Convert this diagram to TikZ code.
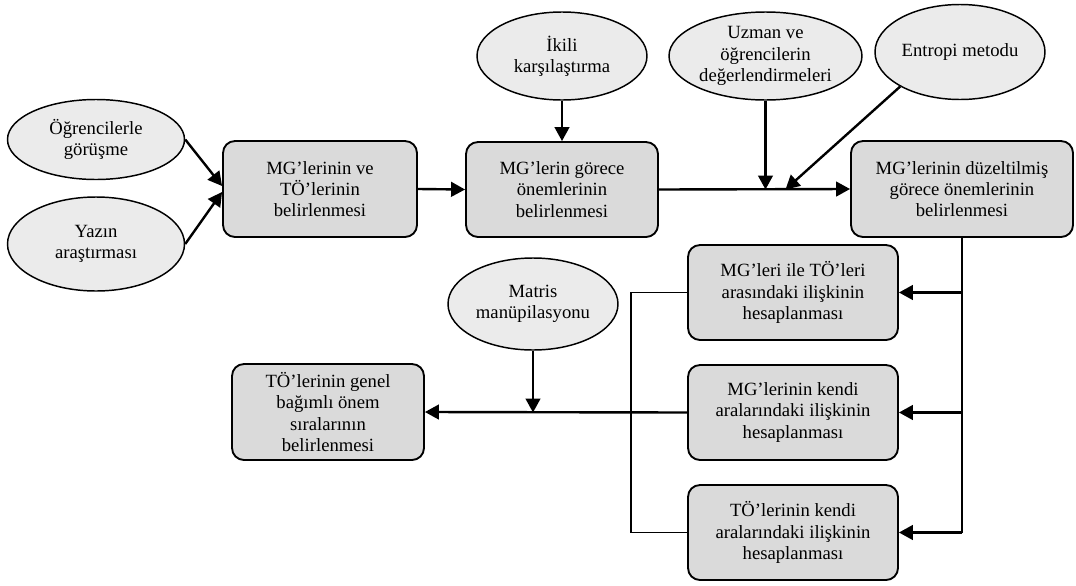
\documentclass[tikz,border=0pt]{standalone}
\usepackage{fontspec}
\setmainfont{Liberation Serif}
\usetikzlibrary{shapes.geometric,arrows.meta,calc}
\definecolor{boxgray}{HTML}{DADADA}
\definecolor{ovalgray}{HTML}{EBEBEB}
\begin{document}
\begin{tikzpicture}[x=0.75pt,y=-0.75pt,
  font=\fontsize{14}{16}\selectfont,
  stepbox/.style={draw, line width=1.4pt, rounded corners=9pt, fill=boxgray,
    align=center, inner sep=0pt},
  oval/.style={draw, ellipse, line width=1.1pt, fill=ovalgray,
    align=center, inner sep=0pt},
  arr/.style={line width=1.8pt, -{Triangle[length=10.5pt,width=11pt]}},
  link/.style={line width=1.8pt},
  thinlink/.style={line width=0.9pt}]
\useasboundingbox (0,0) rectangle (1076,586);

% inputs on the left
\node[oval, minimum width=132.75pt, minimum height=60pt] (e1) at (96,139.5) {Öğrencilerle\\görüşme};
\node[oval, minimum width=132.75pt, minimum height=70.5pt] (e2) at (96,244) {Yazın\\araştırması};

% top row of steps
\node[stepbox, minimum width=145.5pt, minimum height=72pt] (b1) at (320,189) {MG’lerinin ve\\TÖ’lerinin\\belirlenmesi};
\node[stepbox, minimum width=144pt, minimum height=71.25pt] (b2) at (562,189.5) {MG’lerin görece\\önemlerinin\\belirlenmesi};
\node[stepbox, minimum width=166.5pt, minimum height=72pt] (b3) at (962,189) {MG’lerinin düzeltilmiş\\görece önemlerinin\\belirlenmesi};

% methods above
\node[oval, minimum width=127.5pt, minimum height=66pt] (e3) at (562,56) {İkili\\karşılaştırma};
\node[oval, minimum width=144.75pt, minimum height=66pt] (e4) at (765.5,56) {Uzman ve\\öğrencilerin\\değerlendirmeleri};
\node[oval, minimum width=127.5pt, minimum height=71.25pt] (e5) at (960,52) {Entropi metodu};

% relation calculations
\node[stepbox, minimum width=157.5pt, minimum height=71.25pt] (b4) at (793,292.5) {MG’leri ile TÖ’leri\\arasındaki ilişkinin\\hesaplanması};
\node[stepbox, minimum width=157.5pt, minimum height=71.25pt] (b5) at (793,412.5) {MG’lerinin kendi\\aralarındaki ilişkinin\\hesaplanması};
\node[stepbox, minimum width=157.5pt, minimum height=71.25pt] (b6) at (793,532.5) {TÖ’lerinin kendi\\aralarındaki ilişkinin\\hesaplanması};

% final ranking
\node[oval, minimum width=127.5pt, minimum height=69pt] (e6) at (533,304) {Matris\\manüpilasyonu};
\node[stepbox, minimum width=144pt, minimum height=72pt] (b7) at (328,412) {TÖ’lerinin genel\\bağımlı önem\\sıralarının\\belirlenmesi};

% junction points on the main lines
\coordinate (j1) at (b2.east -| e4.south);
\coordinate (j2) at ($(j1)+(20,0)$);
\coordinate (j3) at (e6.south |- b5.west);

% connectors
\draw[arr] (e1.east) -- ($(b1.west)+(0,-3)$);
\draw[arr] (e2.east) -- ($(b1.west)+(0,3)$);
\draw[arr] (b1.east) -- (b2.west);
\draw[arr] (e3.south) -- (b2.north);
\draw[arr] (b2.east) -- (b3.west);
\draw[arr] (e4.south) -- (j1);
\draw[arr] (e5.210) -- (j2);

\draw[link] (b3.south) -- (b3.south |- b6.east);
\draw[arr] (b3.south |- b4.east) -- (b4.east);
\draw[arr] (b3.south |- b5.east) -- (b5.east);
\draw[arr] (b3.south |- b6.east) -- (b6.east);

\draw[thinlink] (b4.west) -- ++(-56,0) |- (b6.west);
\draw[arr] (b5.west) -- (b7.east);
\draw[arr] (e6.south) -- (j3);
\end{tikzpicture}
\end{document}
